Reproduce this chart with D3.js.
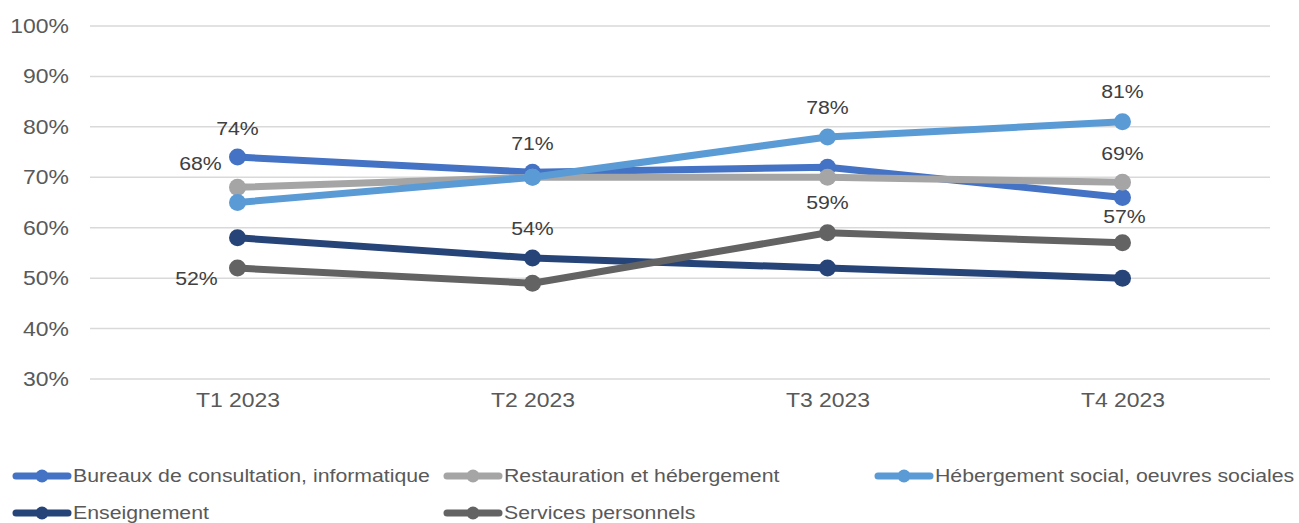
<!DOCTYPE html>
<html>
<head>
<meta charset="utf-8">
<script src="https://cdn.jsdelivr.net/npm/d3@7"></script>
<style>
  body { margin: 0; background: #fff; }
  text { font-family: "Liberation Sans", Arial, sans-serif; }
</style>
</head>
<body>
<svg id="chart"></svg>
<script>
const categories = ["T1 2023", "T2 2023", "T3 2023", "T4 2023"];
const seriesNames = [
  "Bureaux de consultation, informatique",
  "Restauration et hébergement",
  "Hébergement social, oeuvres sociales",
  "Enseignement",
  "Services personnels"
];
const bureaux = [74, 71, 72, 66];
const restauration = [68, 70, 70, 69];
const hebergementSocial = [65, 70, 78, 81];
const enseignement = [58, 54, 52, 50];
const servicesPerso = [52, 49, 59, 57];
const yTicks = [30, 40, 50, 60, 70, 80, 90, 100];

// which points carry a value label: [series index, category index, dx, dy]
const labelPoints = [
  [0, 0, 0, -29], [1, 0, -37, -24], [4, 0, -41, 10],
  [0, 1, 0, -29], [3, 1, 0, -30],
  [2, 2, 0, -30], [4, 2, 0, -30],
  [2, 3, 0, -30], [1, 3, 0, -29], [4, 3, 2, -26]
];

const colors = ["#4472C4", "#A5A5A5", "#5B9BD5", "#264478", "#636363"];
const allValues = [bureaux, restauration, hebergementSocial, enseignement, servicesPerso];
const series = seriesNames.map((name, i) => ({ name, values: allValues[i], color: colors[i] }));

const width = 1299, height = 523;
const plotLeft = 90, plotRight = 1270, plotTop = 26, plotBottom = 379;
const sx = 1.12; // the original text is a bit wider than Arial

const svg = d3.select("#chart").attr("width", width).attr("height", height);

const x = d3.scalePoint().domain(categories).range([plotLeft, plotRight]).padding(0.5);
const y = d3.scaleLinear().domain([30, 100]).range([plotBottom, plotTop]);

// gridlines
svg.append("g")
  .selectAll("line")
  .data(yTicks)
  .enter().append("line")
  .attr("x1", plotLeft).attr("x2", plotRight)
  .attr("y1", d => y(d)).attr("y2", d => y(d))
  .attr("stroke", "#D9D9D9")
  .attr("stroke-width", 1.5);

const yAxis = svg.append("g")
  .attr("transform", `translate(${plotLeft - 21}, 0)`)
  .call(d3.axisLeft(y).tickValues(yTicks).tickSize(0).tickFormat(d => d + "%"));
yAxis.select(".domain").remove();
yAxis.selectAll("text")
  .attr("font-size", 20.5).attr("fill", "#595959").attr("x", 0)
  .attr("transform", `scale(${sx},1)`);

const xAxis = svg.append("g")
  .attr("transform", `translate(0, ${plotBottom})`)
  .call(d3.axisBottom(x).tickSize(0));
xAxis.select(".domain").remove();
xAxis.selectAll("text")
  .attr("font-size", 20.5).attr("fill", "#595959").attr("y", 0).attr("dy", "1.35em")
  .attr("transform", `scale(${sx},1)`);

const line = d3.line()
  .x((d, i) => x(categories[i]))
  .y(d => y(d));

series.forEach(s => {
  svg.append("path")
    .datum(s.values)
    .attr("d", line)
    .attr("fill", "none")
    .attr("stroke", s.color)
    .attr("stroke-width", 7)
    .attr("stroke-linejoin", "round");
  svg.append("g")
    .selectAll("circle")
    .data(s.values)
    .enter().append("circle")
    .attr("cx", (d, i) => x(categories[i]))
    .attr("cy", d => y(d))
    .attr("r", 8.5)
    .attr("fill", s.color);
});

svg.append("g")
  .selectAll("text")
  .data(labelPoints)
  .enter().append("text")
  .attr("transform", d => `translate(${x(categories[d[1]]) + d[2]},${y(series[d[0]].values[d[1]]) + d[3]}) scale(${sx},1)`)
  .attr("text-anchor", "middle")
  .attr("dominant-baseline", "central")
  .attr("font-size", 19)
  .attr("fill", "#404040")
  .text(d => series[d[0]].values[d[1]] + "%");

// legend
const legendPos = [[13, 476], [444, 476], [875, 476], [13, 513], [444, 513]];
const legend = svg.append("g")
  .selectAll("g")
  .data(series)
  .enter().append("g")
  .attr("transform", (d, i) => `translate(${legendPos[i][0]}, ${legendPos[i][1]})`);
legend.append("line")
  .attr("x1", 3).attr("x2", 55)
  .attr("stroke", d => d.color)
  .attr("stroke-width", 7)
  .attr("stroke-linecap", "round");
legend.append("circle")
  .attr("cx", 29).attr("r", 6.5)
  .attr("fill", d => d.color);
legend.append("text")
  .attr("transform", "translate(60,0) scale(1.15,1)")
  .attr("dominant-baseline", "central")
  .attr("font-size", 18.5)
  .attr("fill", "#595959")
  .text(d => d.name);
</script>
</body>
</html>
